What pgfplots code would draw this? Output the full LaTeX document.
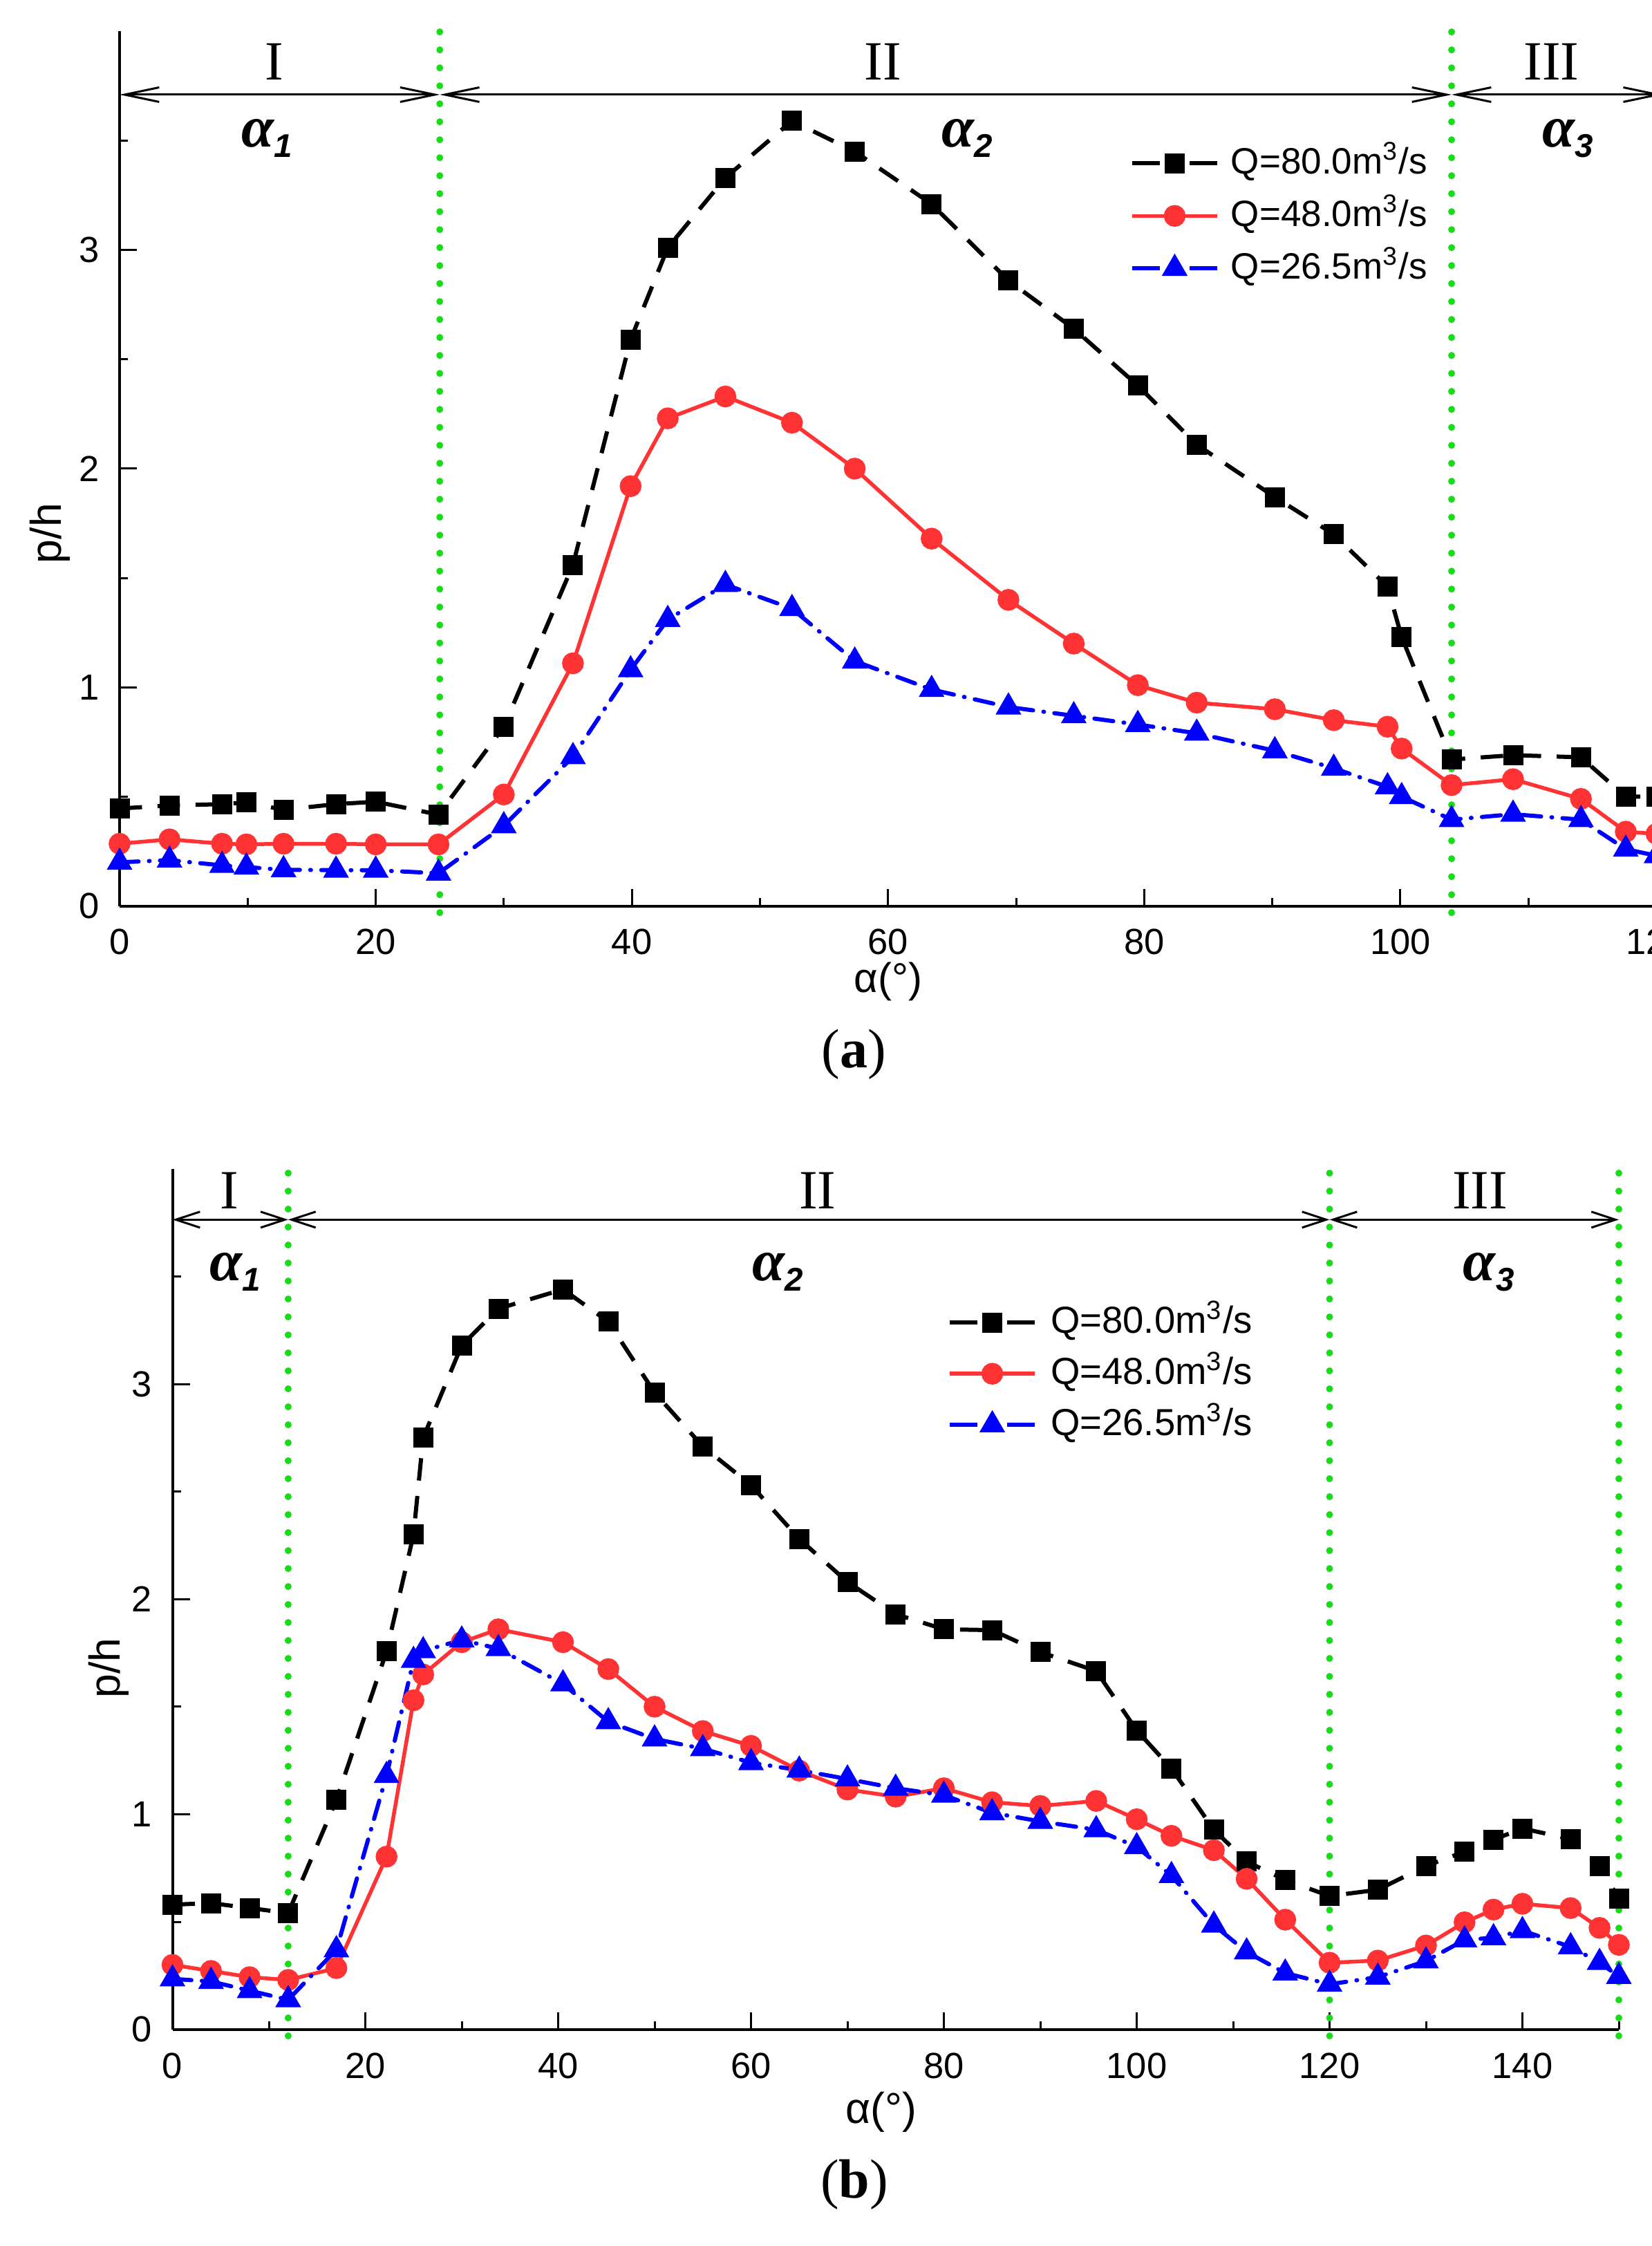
\documentclass[border=0pt]{standalone}
\usepackage{fontspec}
\setmainfont{Liberation Serif}
\setsansfont{Liberation Sans}
\usepackage{pgfplots}
\usepackage{pgfplotstable}
\pgfplotsset{compat=1.18}
\usetikzlibrary{arrows.meta}

\definecolor{qred}{RGB}{255,51,51}
\definecolor{qblue}{RGB}{0,0,255}
\definecolor{vgreen}{RGB}{25,220,25}

% panel (a)
\pgfplotstableread{
x     black  red    blue
0     0.446  0.285  0.200
3.9   0.460  0.305  0.210
8.0   0.466  0.285  0.186
9.9   0.474  0.282  0.178
12.8  0.440  0.285  0.166
16.9  0.466  0.285  0.164
20.0  0.477  0.282  0.164
24.9  0.418  0.282  0.150
30.0  0.820  0.510  0.367
35.4  1.560  1.110  0.683
39.9  2.590  1.920  1.080
42.8  3.010  2.230  1.310
47.3  3.330  2.330  1.470
52.5  3.590  2.210  1.360
57.4  3.450  2.000  1.120
63.4  3.210  1.680  0.990
69.4  2.860  1.400  0.910
74.5  2.640  1.200  0.870
79.5  2.380  1.010  0.830
84.1  2.110  0.930  0.790
90.2  1.870  0.900  0.710
94.8  1.700  0.850  0.630
99.0  1.460  0.820  0.545
100.1 1.230  0.720  0.500
104.0 0.670  0.553  0.395
108.8 0.690  0.580  0.420
114.1 0.680  0.490  0.395
117.6 0.500  0.340  0.260
120.0 0.500  0.330  0.230
}\tabA

% panel (b)
\pgfplotstableread{
x     black  red    blue
0     0.580  0.300  0.235
4     0.587  0.272  0.223
8     0.564  0.243  0.180
12    0.541  0.230  0.138
17    1.066  0.285  0.370
22.2  1.757  0.803  1.180
25    2.300  1.530  1.715
26    2.750  1.650  1.760
30    3.180  1.800  1.810
33.8  3.350  1.860  1.770
40.5  3.440  1.800  1.606
45.2  3.290  1.675  1.430
50    2.960  1.500  1.350
55    2.710  1.387  1.305
60    2.530  1.318  1.240
65    2.280  1.203  1.205
70    2.080  1.115  1.164
75    1.930  1.082  1.121
80    1.860  1.121  1.089
85    1.856  1.056  1.007
90    1.754  1.039  0.967
95.8  1.666  1.062  0.928
100   1.390  0.977  0.849
103.6 1.213  0.900  0.715
108   0.928  0.833  0.485
111.4 0.780  0.700  0.360
115.4 0.695  0.510  0.262
120   0.620  0.310  0.210
125   0.649  0.320  0.243
130   0.760  0.390  0.318
134   0.826  0.498  0.416
137   0.882  0.557  0.426
140   0.934  0.584  0.459
145   0.885  0.564  0.384
148   0.760  0.472  0.311
150   0.607  0.393  0.246
}\tabB

\pgfplotsset{
  panel/.style={
    scale only axis,
    axis lines=left,
    axis line style={-, line width=0.8pt},
    xmin=0, ymin=0, ymax=4,
    clip=false,
    tick align=inside,
    major tick length=5pt,
    minor tick length=2.4pt,
    every tick/.append style={black, line width=0.6pt},
    ytick={0,1,2,3},
    minor ytick={0.5,1.5,2.5,3.5},
    font=\sffamily,
    tick label style={font=\sffamily\fontsize{10.5}{12}\selectfont},
    /pgf/number format/assume math mode=true,
    xticklabel style={yshift=-3.2pt},
    yticklabel style={xshift=-2.4pt},
    xlabel={α(°)},
    ylabel={p/h},
    legend cell align=left,
    legend image code/.code={
      \draw[mark repeat=2,mark phase=2,##1]
        plot coordinates {(0pt,0pt) (12.3pt,0pt) (24.6pt,0pt)};},
  },
  sq/.style={black, line width=1.2pt, dash pattern=on 6.5pt off 4.5pt,
    mark=square*, mark size=2.3pt, mark options={solid},
    legend image post style={dash pattern=on 8pt off 8.6pt}},
  ci/.style={qred, line width=1.1pt, mark=*, mark size=2.6pt},
  tr/.style={qblue, line width=1.2pt, line cap=round,
    dash pattern=on 5.5pt off 3pt on 0.2pt off 3pt,
    mark=triangle*, mark size=3.1pt, mark options={solid},
    legend image post style={line cap=butt, dash pattern=on 8pt off 8.6pt}},
}
\tikzset{
  vline/.style={vgreen, line width=2pt, line cap=round, dash pattern=on 0pt off 5.2pt},
  roman/.style={font=\rmfamily\fontsize{16}{16}\selectfont},
  span/.style={line width=0.6pt},
}
\newcommand{\al}[1]{{\rmfamily\bfseries\itshape\fontsize{17}{17}\selectfont α}\raisebox{-3pt}{\sffamily\bfseries\itshape\fontsize{9.5}{9.5}\selectfont #1}}

\begin{document}
\begin{tikzpicture}

% ---------- (a)
\begin{axis}[panel,
  at={(34.6pt,387.66pt)}, anchor=south west,
  width=444.7pt, height=253.1pt,
  xmax=120,
  xtick={0,20,...,120}, minor xtick={10,30,...,110},
  every axis x label/.style={at={(axis description cs:0.5,-0.086)}, anchor=center,
    font=\sffamily\fontsize{12}{14}\selectfont},
  every axis y label/.style={at={(axis description cs:-0.0451,0.426)}, rotate=90, anchor=center,
    font=\sffamily\fontsize{12.5}{14}\selectfont},
  legend style={draw=none, fill=none, inner sep=0pt, outer sep=0pt,
    at={(axis cs:78.9,3.475)}, anchor=north west, row sep=5.2pt,
    nodes={inner sep=0pt, text height=8pt, text depth=2pt,
      font=\sffamily\fontsize{10.6}{13}\selectfont},
    /tikz/every odd column/.append style={column sep=3.4pt}},
]
\addplot[sq] table[x=x, y=black] {\tabA};
\addlegendentry{Q=80.0m\textsuperscript{3}/s}
\addplot[ci] table[x=x, y=red] {\tabA};
\addlegendentry{Q=48.0m\textsuperscript{3}/s}
\addplot[tr] table[x=x, y=blue] {\tabA};
\addlegendentry{Q=26.5m\textsuperscript{3}/s}

\draw[vline] (axis cs:25,-0.03) -- (axis cs:25,4);
\draw[vline] (axis cs:104,-0.03) -- (axis cs:104,4);

\draw[span, {Straight Barb[length=10pt,width=4.2pt]}-{Straight Barb[length=10pt,width=4.2pt]}]
  (axis cs:0,3.71) -- (axis cs:25,3.71);
\draw[span, {Straight Barb[length=10pt,width=4.2pt]}-{Straight Barb[length=10pt,width=4.2pt]}]
  (axis cs:25,3.71) -- (axis cs:104,3.71);
\draw[span, {Straight Barb[length=10pt,width=4.2pt]}-{Straight Barb[length=10pt,width=4.2pt]}]
  (axis cs:104,3.71) -- (axis cs:120.5,3.71);

\node[roman] at (axis cs:12.1,3.86) {I};
\node[roman] at (axis cs:59.6,3.86) {II};
\node[roman] at (axis cs:111.8,3.86) {III};
\node at (axis cs:11.5,3.51) {\al{1}};
\node at (axis cs:66.2,3.51) {\al{2}};
\node at (axis cs:113.1,3.51) {\al{3}};
\end{axis}

% ---------- (b)
\begin{axis}[panel,
  at={(49.9pt,62.66pt)}, anchor=south west,
  width=418.5pt, height=248.96pt,
  xmax=150,
  xtick={0,20,...,140}, minor xtick={10,30,...,150},
  every axis x label/.style={at={(axis description cs:0.49,-0.0964)}, anchor=center,
    font=\sffamily\fontsize{12.5}{14}\selectfont},
  every axis y label/.style={at={(axis description cs:-0.0442,0.42)}, rotate=90, anchor=center,
    font=\sffamily\fontsize{12.5}{14}\selectfont},
  legend style={draw=none, fill=none, inner sep=0pt, outer sep=0pt,
    at={(axis cs:80.4,3.366)}, anchor=north west, row sep=4.8pt,
    nodes={inner sep=0pt, text height=8pt, text depth=2pt,
      font=\sffamily\fontsize{10.9}{13}\selectfont},
    /tikz/every odd column/.append style={column sep=4pt}},
]
\addplot[sq] table[x=x, y=black] {\tabB};
\addlegendentry{Q=80.0m\textsuperscript{3}/s}
\addplot[ci] table[x=x, y=red] {\tabB};
\addlegendentry{Q=48.0m\textsuperscript{3}/s}
\addplot[tr] table[x=x, y=blue] {\tabB};
\addlegendentry{Q=26.5m\textsuperscript{3}/s}

\draw[vline] (axis cs:12,-0.03) -- (axis cs:12,4);
\draw[vline] (axis cs:120,-0.03) -- (axis cs:120,4);
\draw[vline] (axis cs:150,-0.03) -- (axis cs:150,4);

\draw[span, {Straight Barb[length=7pt,width=4.6pt]}-{Straight Barb[length=7pt,width=4.6pt]}]
  (axis cs:0,3.764) -- (axis cs:12,3.764);
\draw[span, {Straight Barb[length=7pt,width=4.6pt]}-{Straight Barb[length=7pt,width=4.6pt]}]
  (axis cs:12,3.764) -- (axis cs:120,3.764);
\draw[span, {Straight Barb[length=7pt,width=4.6pt]}-{Straight Barb[length=7pt,width=4.6pt]}]
  (axis cs:120,3.764) -- (axis cs:150,3.764);

\node[roman] at (axis cs:5.9,3.90) {I};
\node[roman] at (axis cs:66.9,3.90) {II};
\node[roman] at (axis cs:135.6,3.90) {III};
\node at (axis cs:6.5,3.52) {\al{1}};
\node at (axis cs:62.8,3.52) {\al{2}};
\node at (axis cs:136.5,3.52) {\al{3}};
\end{axis}

\node[font=\rmfamily\fontsize{16}{16}\selectfont] at (247pt,344.8pt) {(\textbf{a})};
\node[font=\rmfamily\fontsize{16}{16}\selectfont] at (247.2pt,17.8pt) {(\textbf{b})};

\pgfresetboundingbox
\path[use as bounding box] (0pt,0pt) rectangle (478pt,649.8pt);
\end{tikzpicture}
\end{document}
